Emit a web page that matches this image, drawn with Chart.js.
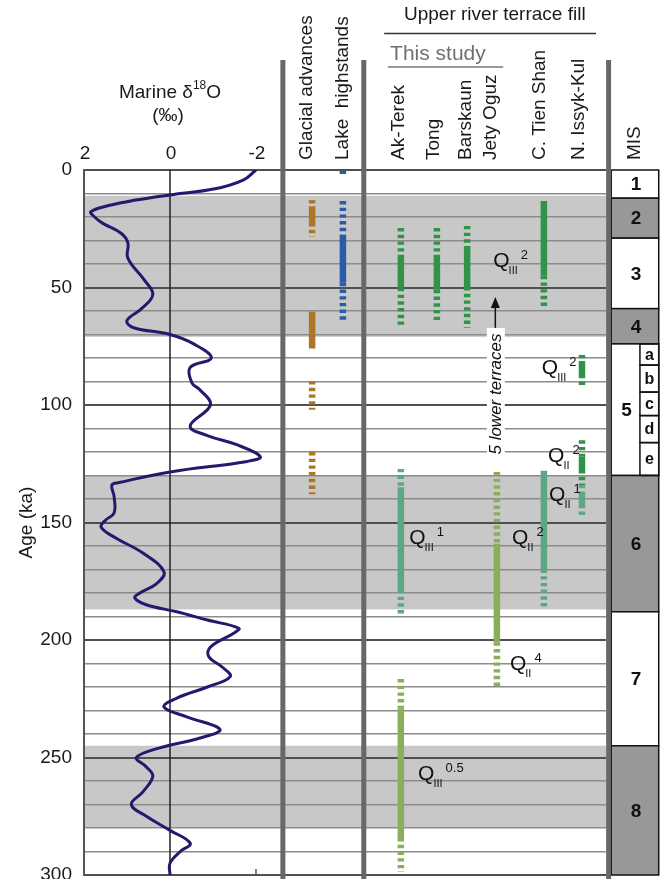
<!DOCTYPE html>
<html>
<head>
<meta charset="utf-8">
<script src="https://cdn.jsdelivr.net/npm/chart.js@4.4.1/dist/chart.umd.min.js"></script>
<style>
    html, body { margin: 0; padding: 0; background: #fff; }
    #wrap { position: relative; width: 668px; height: 879px; }
</style>
</head>
<body>
<div id="wrap"><canvas id="chart" width="668" height="879"></canvas></div>
<script>
// Marine d18O stack, age (ka) and value (permil)
const isoAge = [0, 4.3, 8, 10.6, 12.8, 15, 17.7, 19.9, 22.6, 27, 31, 37.5, 47, 53, 59, 64, 67, 70, 74, 80,
    84, 90.6, 93.6, 100, 109, 113, 117, 122, 124, 128.5, 133, 134, 139, 146, 149, 152, 156.7, 163, 171, 176,
    180, 182, 185, 188, 191.5, 195, 197, 203, 207, 211.6, 215.6, 220, 224.7, 228.5, 232.7, 238, 241.7, 245.9, 250, 254,
    258, 264.6, 270, 275, 281, 286.5, 290, 295, 300];
const isoValue = [-2.0, -1.7, -1.05, 0, 0.8, 1.4, 1.84, 1.76, 1.57, 1.13, 0.98, 0.98, 0.59, 0.4, 0.66, 1.0, 0.86, 0, -0.55, -0.96,
    -0.47, -0.51, -0.7, -0.94, -0.47, -0.87, -1.57, -2.1, -1.8, 0, 1.18, 1.35, 1.3, 1.3, 1.5, 1.6, 1.25, 0.63, 0.14, 0.31,
    0.7, 0.82, 0.55, -0.16, -0.87, -1.6, -1.49, -0.94, -0.9, -1.22, -1.4, -0.87, -0.16, 0.14, -0.39, -1.16, -0.7, 0.24, 0.78, 0.55,
    0.4, 0.63, 0.9, 0.55, 0, -0.47, -0.24, 0, 0];
const isoTicks = [2, 0, -2];

// Shaded glacial intervals (ka)
const glacialBands = [[11, 71], [130, 187], [245, 280]];

// Marine isotope stages and MIS 5 substages (boundaries in ka)
const misStages = ['1', '2', '3', '4', '5', '6', '7', '8'];
const misBounds = [0, 12, 29, 59, 74, 130, 188, 245, 300];
const mis5Sub = ['a', 'b', 'c', 'd', 'e'];
const mis5Bounds = [74, 83, 94.5, 104.5, 116, 130];

// Record columns
const columns = ['Glacial advances', 'Lake  highstands', 'Ak-Terek', 'Tong', 'Barskaun', 'Jety Oguz', 'C. Tien Shan', 'N. Issyk-Kul'];

// [column, unit, from ka, to ka, well dated]
const records = [
    ['Glacial advances', 'glacial', 12.8, 15.4, false],
    ['Glacial advances', 'glacial', 15.4, 22.6, true],
    ['Glacial advances', 'glacial', 22.6, 28.5, false],
    ['Glacial advances', 'glacial', 60.3, 76, true],
    ['Glacial advances', 'glacial', 89.8, 102, false],
    ['Glacial advances', 'glacial', 120, 138, false],
    ['Lake  highstands', 'lake', 0.3, 1.7, false],
    ['Lake  highstands', 'lake', 13.2, 27.5, false],
    ['Lake  highstands', 'lake', 27.5, 48, true],
    ['Lake  highstands', 'lake', 48, 64, false],
    ['Ak-Terek', 'QIII2', 24.7, 36.2, false],
    ['Ak-Terek', 'QIII2', 36.2, 50.2, true],
    ['Ak-Terek', 'QIII2', 50.2, 66.8, false],
    ['Ak-Terek', 'QIII1', 127.2, 135, false],
    ['Ak-Terek', 'QIII1', 135, 178.7, true],
    ['Ak-Terek', 'QIII1', 178.7, 189.4, false],
    ['Ak-Terek', 'QIII05', 216.6, 229, false],
    ['Ak-Terek', 'QIII05', 229, 284.3, true],
    ['Ak-Terek', 'QIII05', 284.3, 298.7, false],
    ['Tong', 'QIII2', 24.7, 37.4, false],
    ['Tong', 'QIII2', 37.4, 51, true],
    ['Tong', 'QIII2', 51, 65, false],
    ['Barskaun', 'QIII2', 23.8, 32.8, false],
    ['Barskaun', 'QIII2', 32.8, 49.8, true],
    ['Barskaun', 'QIII2', 49.8, 67.2, false],
    ['Jety Oguz', 'QII4', 128.5, 159, false],
    ['Jety Oguz', 'QII4', 159, 201, true],
    ['Jety Oguz', 'QII4', 201, 219.6, false],
    ['C. Tien Shan', 'QIII2', 13.2, 45, true],
    ['C. Tien Shan', 'QIII2', 45, 58.7, false],
    ['C. Tien Shan', 'QII2b', 128, 170, true],
    ['C. Tien Shan', 'QII2b', 170, 187, false],
    ['N. Issyk-Kul', 'QIII2', 78.7, 81.3, false],
    ['N. Issyk-Kul', 'QIII2', 81.3, 87.2, true],
    ['N. Issyk-Kul', 'QIII2', 87.2, 92.8, false],
    ['N. Issyk-Kul', 'QII2', 115, 122, false],
    ['N. Issyk-Kul', 'QII2', 122, 127.7, true],
    ['N. Issyk-Kul', 'QII2', 127.7, 134, false],
    ['N. Issyk-Kul', 'QII1', 134, 137, false],
    ['N. Issyk-Kul', 'QII1', 137, 142.5, true],
    ['N. Issyk-Kul', 'QII1', 142.5, 147.5, false]
];

// Terrace labels: [subscript, superscript, age ka of label, column-axis position]
const terraceLabels = [
    ['III', '2', 38.7, 78.4],
    ['III', '2', 84.3, 87.7],
    ['II', '2', 121.7, 88.9],
    ['II', '1', 138.3, 89.1],
    ['III', '1', 156.6, 62.3],
    ['II', '2', 156.6, 82.0],
    ['II', '4', 210.2, 81.6],
    ['III', '0.5', 257, 64.0]
];

// ---- layout / style (kept apart from the data) ----
const SANS = "'Liberation Sans', Arial, sans-serif";
const unitColor = {
    glacial: '#b07628', lake: '#2b5ba8', QIII2: '#2f9447', QII2: '#2f9447',
    QIII1: '#5da784', QII2b: '#5da784', QII1: '#5da784', QIII05: '#8aae59', QII4: '#8aae59'
};
// positions on the hidden column axis (0..100 across the plot)
const columnX = [43.7, 49.6, 60.7, 67.6, 73.4, 79.1, 88.1, 95.4];
const headerX = [42.6, 49.6, 60.3, 67.1, 73.2, 78.0, 87.4, 94.8];
const separatorX = [38.1, 53.6, 100.5];
const misLeft = 101, misSubLeft = 106.5, misRight = 110.1;

Chart.defaults.font.family = SANS;
Chart.defaults.color = '#1a1a1a';

const curveDataset = {
    data: isoAge.map((a, i) => ({ x: isoValue[i], y: a })),
    xAxisID: 'x', yAxisID: 'y',
    borderColor: '#231a6e', borderWidth: 3,
    pointRadius: 0, tension: 0.4, fill: false
};

const recordDatasets = records.map(r => {
    const cx = columnX[columns.indexOf(r[0])];
    return {
        data: [{ x: cx, y: r[2] }, { x: cx, y: r[3] }],
        xAxisID: 'xc', yAxisID: 'y',
        borderColor: unitColor[r[1]], borderWidth: 6.5,
        borderDash: r[4] ? [] : [3.4, 3.3], borderCapStyle: 'butt',
        pointRadius: 0, tension: 0, fill: false
    };
});

function rotatedText(ctx, text, x, yBottom, font, color) {
    ctx.save();
    ctx.translate(x, yBottom);
    ctx.rotate(-Math.PI / 2);
    ctx.font = font;
    ctx.fillStyle = color;
    ctx.textAlign = 'left';
    ctx.textBaseline = 'middle';
    ctx.fillText(text, 0, 0);
    ctx.restore();
}

function hLine(ctx, x1, x2, y, color, w) {
    ctx.beginPath();
    ctx.strokeStyle = color; ctx.lineWidth = w;
    ctx.moveTo(x1, y); ctx.lineTo(x2, y);
    ctx.stroke();
}

const decorations = {
    id: 'decorations',
    beforeDraw(chart) {
        const { ctx, chartArea: a, scales: { y } } = chart;
        ctx.save();
        ctx.fillStyle = '#fff';
        ctx.fillRect(0, 0, chart.width, chart.height);
        // glacial bands
        ctx.fillStyle = '#c8c8c8';
        glacialBands.forEach(([t, b]) => {
            const y1 = y.getPixelForValue(t), y2 = y.getPixelForValue(b);
            ctx.fillRect(a.left, y1, a.right - a.left, y2 - y1);
        });
        ctx.restore();
    },
    beforeDatasetsDraw(chart) {
        const { ctx, chartArea: a, scales: { x } } = chart;
        const zx = x.getPixelForValue(0);
        ctx.save();
        ctx.beginPath();
        ctx.strokeStyle = '#222'; ctx.lineWidth = 1.5;
        ctx.moveTo(zx, a.top); ctx.lineTo(zx, a.bottom);
        ctx.stroke();
        ctx.restore();
    },
    afterDraw(chart) {
        const { ctx, chartArea: a, scales: { x, y, xc } } = chart;
        const px = v => xc.getPixelForValue(v);
        ctx.save();

        // isotope axis labels on top, small tick for -2 on the bottom
        ctx.fillStyle = '#1a1a1a';
        ctx.font = `19px ${SANS}`;
        ctx.textAlign = 'center'; ctx.textBaseline = 'middle';
        isoTicks.forEach(v => ctx.fillText(String(v), x.getPixelForValue(v) + 1, 154));
        ctx.beginPath();
        ctx.strokeStyle = '#555'; ctx.lineWidth = 1.5;
        ctx.moveTo(x.getPixelForValue(-2), a.bottom - 6);
        ctx.lineTo(x.getPixelForValue(-2), a.bottom);
        ctx.stroke();

        // "5 lower terraces" arrow
        const ax = px(78.8);
        const tip = y.getPixelForValue(54), tail = y.getPixelForValue(67.2);
        ctx.beginPath();
        ctx.strokeStyle = '#111'; ctx.lineWidth = 1.5;
        ctx.moveTo(ax, tail); ctx.lineTo(ax, tip + 8);
        ctx.stroke();
        ctx.beginPath();
        ctx.fillStyle = '#111';
        ctx.moveTo(ax, tip); ctx.lineTo(ax - 4.5, tip + 11); ctx.lineTo(ax + 4.5, tip + 11);
        ctx.closePath(); ctx.fill();
        const boxTop = y.getPixelForValue(67.2), boxBottom = y.getPixelForValue(123.5);
        ctx.fillStyle = '#fff';
        ctx.fillRect(ax - 8.5, boxTop, 18, boxBottom - boxTop);
        ctx.save();
        ctx.translate(ax + 1, (boxTop + boxBottom) / 2);
        ctx.rotate(-Math.PI / 2);
        ctx.font = `italic 17px ${SANS}`;
        ctx.fillStyle = '#111';
        ctx.textAlign = 'center'; ctx.textBaseline = 'middle';
        ctx.fillText('5 lower terraces', 0, 0);
        ctx.restore();

        // terrace labels Q with subscript and superscript
        ctx.fillStyle = '#111';
        ctx.textAlign = 'left'; ctx.textBaseline = 'middle';
        terraceLabels.forEach(([sub, sup, age, pos]) => {
            const lx = px(pos), ly = y.getPixelForValue(age);
            ctx.font = `21px ${SANS}`;
            ctx.fillText('Q', lx, ly);
            const qw = ctx.measureText('Q').width;
            ctx.font = `11px ${SANS}`;
            ctx.fillText(sub, lx + qw - 1, ly + 10);
            const sw = ctx.measureText(sub).width;
            ctx.font = `13px ${SANS}`;
            ctx.fillText(sup, lx + qw + sw + 2, ly - 6);
        });

        // MIS column
        const mL = px(misLeft), mR = px(misRight), mS = px(misSubLeft);
        ctx.lineWidth = 1.5; ctx.strokeStyle = '#111';
        misStages.forEach((label, i) => {
            const top = y.getPixelForValue(misBounds[i]), bottom = y.getPixelForValue(misBounds[i + 1]);
            ctx.fillStyle = Number(label) % 2 === 0 ? '#989898' : '#fff';
            ctx.fillRect(mL, top, mR - mL, bottom - top);
            ctx.strokeRect(mL, top, mR - mL, bottom - top);
            const right = label === '5' ? mS : mR;
            ctx.fillStyle = '#111';
            ctx.font = `bold 19px ${SANS}`;
            ctx.textAlign = 'center'; ctx.textBaseline = 'middle';
            ctx.fillText(label, (mL + right) / 2 + 1, (top + bottom) / 2 + 1);
        });
        mis5Sub.forEach((label, i) => {
            const top = y.getPixelForValue(mis5Bounds[i]), bottom = y.getPixelForValue(mis5Bounds[i + 1]);
            ctx.strokeRect(mS, top, mR - mS, bottom - top);
            ctx.font = `bold 16px ${SANS}`;
            ctx.fillText(label, (mS + mR) / 2, (top + bottom) / 2 + 1);
        });

        // thick column separators
        ctx.fillStyle = '#686868';
        separatorX.forEach(v => {
            ctx.fillRect(px(v) - 2.5, 60, 5, chart.height - 60);
        });

        // headers
        const headFont = `19px ${SANS}`;
        columns.forEach((c, i) => rotatedText(ctx, c, px(headerX[i]), 160, headFont, '#1a1a1a'));
        rotatedText(ctx, 'MIS', px(105.6), 160, headFont, '#1a1a1a');

        ctx.fillStyle = '#1a1a1a';
        ctx.font = headFont;
        ctx.textAlign = 'center'; ctx.textBaseline = 'middle';
        ctx.fillText('Upper river terrace fill', px(78.7), 15);
        hLine(ctx, px(57.5), px(98.1), 33.5, '#333', 1.5);
        ctx.fillStyle = '#707070';
        ctx.font = `21px ${SANS}`;
        ctx.fillText('This study', px(67.8), 54);
        hLine(ctx, px(58.2), px(80.3), 67, '#777', 1.5);

        // isotope title: Marine d18O (permil)
        const tx = x.getPixelForValue(0);
        ctx.fillStyle = '#1a1a1a';
        ctx.textAlign = 'left'; ctx.textBaseline = 'middle';
        ctx.font = `19px ${SANS}`;
        const w1 = ctx.measureText('Marine δ').width, w3 = ctx.measureText('O').width;
        ctx.font = `12px ${SANS}`;
        const w2 = ctx.measureText('18').width;
        const sx = tx - (w1 + w2 + w3) / 2;
        ctx.font = `19px ${SANS}`;
        ctx.fillText('Marine δ', sx, 93);
        ctx.font = `12px ${SANS}`;
        ctx.fillText('18', sx + w1, 86);
        ctx.font = `19px ${SANS}`;
        ctx.fillText('O', sx + w1 + w2, 93);
        ctx.textAlign = 'center';
        ctx.fillText('(‰)', tx - 2, 116);

        ctx.restore();
    }
};

new Chart(document.getElementById('chart'), {
    type: 'line',
    data: { datasets: [curveDataset, ...recordDatasets] },
    options: {
        responsive: false,
        animation: false,
        events: [],
        layout: { padding: { top: 170, left: 0, right: 62, bottom: 4 } },
        plugins: { legend: { display: false }, tooltip: { enabled: false } },
        scales: {
            x: { type: 'linear', display: false, min: -10.14, max: 2, reverse: true },
            xc: { type: 'linear', display: false, min: 0, max: 100 },
            y: {
                type: 'linear', position: 'left',
                min: 0, max: 300, reverse: true,
                afterFit: s => { s.width = 84; s.paddingTop = 0; s.paddingBottom = 0; },
                title: { display: true, text: 'Age (ka)', font: { size: 19 }, color: '#1a1a1a', padding: { top: 15, bottom: 0 } },
                ticks: {
                    stepSize: 10, autoSkip: false, padding: 12,
                    font: { size: 19 }, color: '#1a1a1a',
                    callback: v => (v % 50 === 0 ? String(v) : '')
                },
                grid: {
                    drawTicks: false,
                    color: c => (c.tick && c.tick.value % 50 === 0 ? '#4f4f4f' : '#8c8c8c'),
                    lineWidth: c => (c.tick && c.tick.value % 50 === 0 ? 2 : 1.5)
                },
                border: { display: true, color: '#555', width: 2 }
            }
        }
    },
    plugins: [decorations]
});
</script>
</body>
</html>
